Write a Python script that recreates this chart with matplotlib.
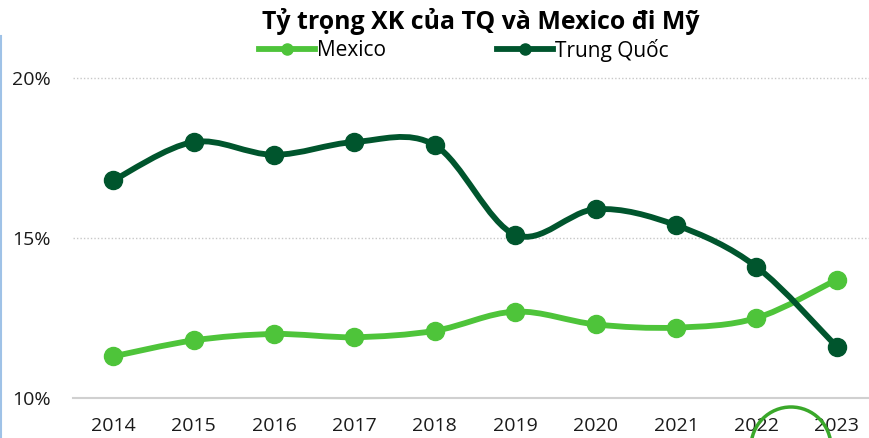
import numpy as np
import matplotlib
matplotlib.use('Agg')
import matplotlib.pyplot as plt
from matplotlib.path import Path
from matplotlib.patches import PathPatch, Ellipse
from matplotlib.lines import Line2D
from matplotlib.ticker import FuncFormatter

plt.rcParams['font.family'] = ['Open Sans', 'DejaVu Sans']

years = ['2014', '2015', '2016', '2017', '2018', '2019', '2020', '2021', '2022', '2023']
mexico = [11.3, 11.8, 12.0, 11.9, 12.1, 12.7, 12.3, 12.2, 12.5, 13.7]
trung_quoc = [16.8, 18.0, 17.6, 18.0, 17.9, 15.1, 15.9, 15.4, 14.1, 11.6]

title = 'Tỷ trọng XK của TQ và Mexico đi Mỹ'
c_mex = '#4ec43a'
c_tq = '#00552d'


def smooth_path(xs, ys):
    # Excel-like smoothed line: Catmull-Rom turned into cubic Bezier segments
    pts = np.column_stack([xs, ys]).astype(float)
    n = len(pts)
    verts = [pts[0]]
    codes = [Path.MOVETO]
    for i in range(n - 1):
        p0 = pts[i - 1] if i > 0 else pts[i]
        p1 = pts[i]
        p2 = pts[i + 1]
        p3 = pts[i + 2] if i + 2 < n else pts[i + 1]
        c1 = p1 + (p2 - p0) / 6.0
        c2 = p2 - (p3 - p1) / 6.0
        verts += [c1, c2, p2]
        codes += [Path.CURVE4] * 3
    return Path(verts, codes)


fig = plt.figure(figsize=(8.69, 4.38), dpi=100)
W, H = 869, 438
ax = fig.add_axes([73 / W, 1 - 398 / H, (W - 73) / W, (398 - 76.4) / H])

x = np.arange(len(years))
for vals, col in [(mexico, c_mex), (trung_quoc, c_tq)]:
    ax.add_patch(PathPatch(smooth_path(x, vals), fill=False, edgecolor=col,
                           lw=4.2, capstyle='round', joinstyle='round', zorder=3))
    ax.plot(x, vals, linestyle='none', marker='o', markersize=13,
            color=col, zorder=4)

ax.set_xlim(-0.5, 9.40)
ax.set_ylim(10, 20.05)
ax.set_yticks([10, 15, 20])
ax.yaxis.set_major_formatter(FuncFormatter(lambda v, p: f'{v:.0f}%'))
ax.set_xticks(x)
ax.set_xticklabels(years)
ax.tick_params(axis='both', length=0, labelsize=14, colors='#1a1a1a')
ax.tick_params(axis='y', pad=16)
ax.tick_params(axis='x', pad=14)
ax.grid(axis='y', linestyle=(0, (1, 1.5)), color='#c8c8c8', lw=1)
ax.set_axisbelow(True)
for s in ['top', 'right', 'left']:
    ax.spines[s].set_visible(False)
ax.spines['bottom'].set_color('#d0d0d0')
ax.spines['bottom'].set_linewidth(1.5)
ax.spines['bottom'].set_zorder(1)

fig.text(481 / W, 1 - 21 / H, title, ha='center', va='center',
         fontsize=17.9, fontweight='bold', color='black')

handles = [Line2D([], [], color=c_mex, lw=4.2, marker='o', markersize=8),
           Line2D([], [], color=c_tq, lw=4.2, marker='o', markersize=8)]
fig.legend(handles, ['Mexico', 'Trung Quốc'], loc='center',
           bbox_to_anchor=(464 / W, 1 - 50 / H), ncol=2, frameon=False,
           fontsize=15, handlelength=2.7, handletextpad=0.1,
           columnspacing=5.3, borderpad=0)

# circle annotation near the bottom right
fig.add_artist(Ellipse((791 / W, 1 - 447 / H), 80 / W, 80 / H,
                       transform=fig.transFigure, fill=False,
                       edgecolor='#3aa82a', lw=2.5))
fig.add_artist(Line2D([0.7 / W, 0.7 / W], [0, 1 - 36 / H],
                      transform=fig.transFigure, color='#9fc2e7', lw=1.5))

fig.savefig('out.png', dpi=100)
